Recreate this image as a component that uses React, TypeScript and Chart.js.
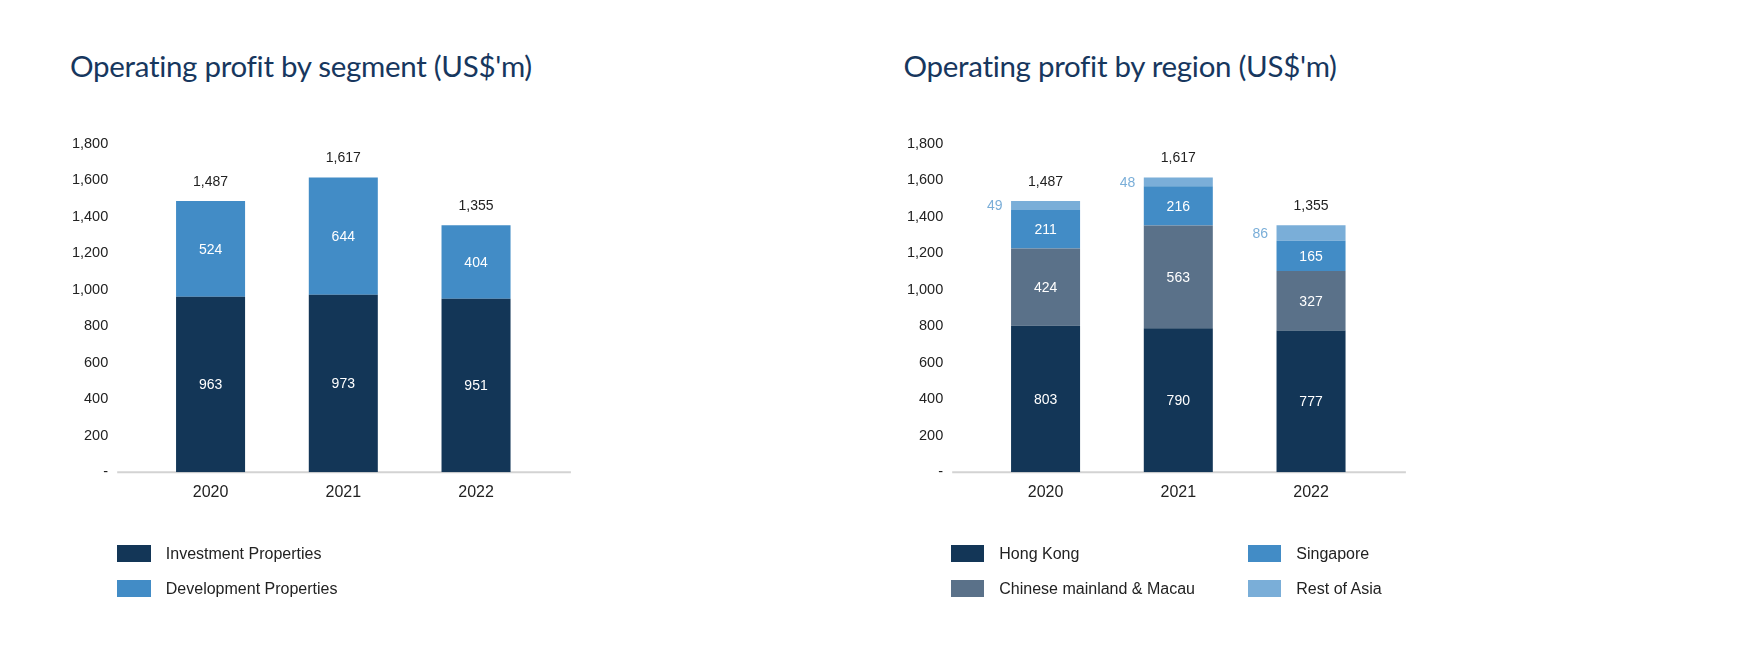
import React, { useEffect, useRef } from "react";
import { Chart, registerables } from "chart.js";

Chart.register(...registerables);

// ---------- data ----------
const years = ["2020", "2021", "2022"];
const investmentProperties = [963, 973, 951];
const developmentProperties = [524, 644, 404];
const hongKong = [803, 790, 777];
const chineseMainlandMacau = [424, 563, 327];
const singapore = [211, 216, 165];
const restOfAsia = [49, 48, 86];
const yTickValues = [0, 200, 400, 600, 800, 1000, 1200, 1400, 1600, 1800];

const segmentTitle = "Operating profit by segment (US$'m)";
const regionTitle = "Operating profit by region (US$'m)";

// ---------- styles ----------
const NAVY = "#133657";
const BLUE = "#428cc6";
const SLATE = "#5a7189";
const LIGHT = "#7aaed8";
const TEXT = "#222222";
const TITLE = "#17375e";
const ARIAL = "'Liberation Sans', Arial, sans-serif";

type Series = { label: string; data: number[]; color: string; outside?: boolean };

const segmentSeries: Series[] = [
  { label: "Investment Properties", data: investmentProperties, color: NAVY },
  { label: "Development Properties", data: developmentProperties, color: BLUE },
];

const regionSeries: Series[] = [
  { label: "Hong Kong", data: hongKong, color: NAVY },
  { label: "Chinese mainland & Macau", data: chineseMainlandMacau, color: SLATE },
  { label: "Singapore", data: singapore, color: BLUE },
  { label: "Rest of Asia", data: restOfAsia, color: LIGHT, outside: true },
];

const CANVAS_W = 835;
const CANVAS_H = 650;
const AREA_LEFT = 144.2;
const AREA_RIGHT = 542.4;
const AREA_TOP = 144;
const AREA_BOTTOM = 472.3;
const X_AXIS_H = 40;

const fmt = (v: number) => v.toLocaleString("en-US");

const baselinePlugin = {
  id: "extendedBaseline",
  beforeDatasetsDraw(chart: any) {
    const { ctx, chartArea } = chart;
    ctx.save();
    ctx.strokeStyle = "#d3d3d3";
    ctx.lineWidth = 2;
    ctx.beginPath();
    ctx.moveTo(chartArea.left - 27, chartArea.bottom);
    ctx.lineTo(chartArea.right + 28.5, chartArea.bottom);
    ctx.stroke();
    ctx.restore();
  },
};

const labelPlugin = {
  id: "barValueLabels",
  afterDatasetsDraw(chart: any) {
    const { ctx } = chart;
    const yScale = chart.scales.y;
    ctx.save();
    ctx.font = `14px ${ARIAL}`;
    ctx.textBaseline = "middle";
    chart.data.datasets.forEach((ds: any, di: number) => {
      const meta = chart.getDatasetMeta(di);
      meta.data.forEach((bar: any, i: number) => {
        const p = bar.getProps(["x", "y", "base", "width"], true);
        const v = ds.data[i];
        const cy = (p.y + p.base) / 2;
        if (ds.outside) {
          ctx.fillStyle = ds.backgroundColor;
          ctx.textAlign = "right";
          ctx.fillText(String(v), p.x - p.width / 2 - 8.5, cy + 1);
        } else {
          ctx.fillStyle = "#ffffff";
          ctx.textAlign = "center";
          ctx.fillText(String(v), p.x, cy + 1);
        }
      });
    });
    // totals
    const meta0 = chart.getDatasetMeta(0);
    chart.data.labels.forEach((_: any, i: number) => {
      let sum = 0;
      chart.data.datasets.forEach((ds: any) => (sum += ds.data[i]));
      const x = meta0.data[i].x;
      const y = yScale.getPixelForValue(sum);
      ctx.fillStyle = TEXT;
      ctx.textAlign = "center";
      ctx.fillText(fmt(sum), x, y - 19);
    });
    ctx.restore();
  },
};

function StackedChart({ series, left }: { series: Series[]; left: number }) {
  const ref = useRef<HTMLCanvasElement | null>(null);
  useEffect(() => {
    if (!ref.current) return;
    const chart = new Chart(ref.current, {
      type: "bar",
      data: {
        labels: years,
        datasets: series.map((s) => ({
          label: s.label,
          data: s.data,
          backgroundColor: s.color,
          borderWidth: 0,
          outside: !!s.outside,
        })) as any,
      },
      options: {
        animation: false,
        responsive: false,
        events: [],
        layout: {
          padding: {
            left: 0,
            top: AREA_TOP,
            right: CANVAS_W - AREA_RIGHT,
            bottom: CANVAS_H - AREA_BOTTOM - X_AXIS_H,
          },
        },
        plugins: { legend: { display: false }, tooltip: { enabled: false }, title: { display: false } },
        datasets: { bar: { categoryPercentage: 1, barPercentage: 0.52 } },
        scales: {
          x: {
            stacked: true,
            grid: { display: false, drawTicks: false },
            border: { display: false },
            ticks: { color: TEXT, font: { family: ARIAL, size: 16 }, padding: 11 },
            afterFit: (s: any) => {
              s.height = X_AXIS_H;
            },
          },
          y: {
            stacked: true,
            min: 0,
            max: 1800,
            grid: { display: false, drawTicks: false },
            border: { display: false },
            afterBuildTicks: (s: any) => {
              s.ticks = yTickValues.map((v) => ({ value: v }));
            },
            ticks: {
              color: TEXT,
              font: { family: ARIAL, size: 14.5 },
              padding: 36,
              callback: (v: any) => (Number(v) === 0 ? "-" : fmt(Number(v))),
            },
            afterFit: (s: any) => {
              s.width = AREA_LEFT;
            },
          },
        },
      },
      plugins: [baselinePlugin, labelPlugin],
    } as any);
    return () => chart.destroy();
  }, [series]);
  return (
    <canvas
      ref={ref}
      width={CANVAS_W}
      height={CANVAS_H}
      style={{ position: "absolute", left, top: 0, width: CANVAS_W, height: CANVAS_H }}
    />
  );
}

function Legend({ series, left, columns }: { series: Series[]; left: number; columns: number }) {
  const rows = Math.ceil(series.length / columns);
  return (
    <>
      {series.map((s, i) => {
        const col = Math.floor(i / rows);
        const row = i % rows;
        return (
          <div
            key={s.label}
            style={{
              position: "absolute",
              left: left + col * 297,
              top: 545 + row * 35,
              height: 17,
              display: "flex",
              alignItems: "center",
              whiteSpace: "nowrap",
            }}
          >
            <span style={{ display: "inline-block", width: 33.5, height: 17, background: s.color }} />
            <span style={{ marginLeft: 15, font: `16px ${ARIAL}`, color: TEXT, lineHeight: "17px" }}>{s.label}</span>
          </div>
        );
      })}
    </>
  );
}

function Title({ text, left }: { text: string; left: number }) {
  return (
    <div
      style={{
        position: "absolute",
        left,
        top: 50.5,
        font: "29.5px Lato, 'Open Sans', sans-serif",
        lineHeight: "30px",
        letterSpacing: "-0.3px",
        fontVariantLigatures: "none",
        fontFeatureSettings: "'liga' 0",
        color: TITLE,
        whiteSpace: "nowrap",
      }}
    >
      {text}
    </div>
  );
}

export default function App() {
  const rightOffset = 835;
  return (
    <div style={{ position: "fixed", left: 0, top: 0, width: 1740, height: 650, background: "#fff", overflow: "hidden" }}>
      <Title text={segmentTitle} left={70} />
      <Title text={regionTitle} left={903.5} />
      <StackedChart series={segmentSeries} left={0} />
      <StackedChart series={regionSeries} left={rightOffset} />
      <Legend series={segmentSeries} left={117.3} columns={1} />
      <Legend series={regionSeries} left={117.3 + rightOffset - 1.5} columns={2} />
    </div>
  );
}
